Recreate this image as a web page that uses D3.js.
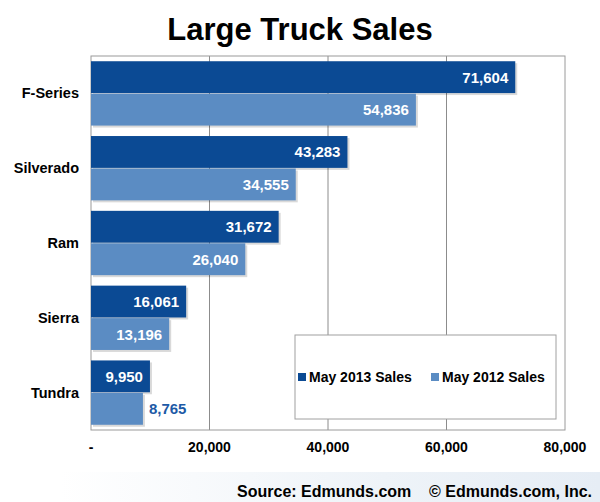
<!DOCTYPE html>
<html>
<head>
<meta charset="utf-8">
<script src="https://cdn.jsdelivr.net/npm/d3@7"></script>
<style>body{margin:0;background:#fff;} text{font-family:"Liberation Sans",Arial,sans-serif;}</style>
</head>
<body>
<script>
// data
var categories = ["F-Series", "Silverado", "Ram", "Sierra", "Tundra"];
var seriesNames = ["May 2013 Sales", "May 2012 Sales"];
var sales2013 = [71604, 43283, 31672, 16061, 9950];
var sales2012 = [54836, 34555, 26040, 13196, 8765];
var tickValues = [0, 20000, 40000, 60000, 80000];
var colors = ["#0b4a94", "#5b8cc3"];

var svg = d3.select("body").append("svg")
    .attr("width", 600).attr("height", 502)
    .style("display", "block");

var defs = svg.append("defs");
var grad = defs.append("linearGradient").attr("id", "foot");
grad.append("stop").attr("offset", "0%").attr("stop-color", "#ffffff");
grad.append("stop").attr("offset", "60%").attr("stop-color", "#eef3f8");
grad.append("stop").attr("offset", "100%").attr("stop-color", "#e6edf5");

var x = d3.scaleLinear().domain([0, 80000]).range([91, 565]);
var y0 = d3.scaleBand().domain(categories).range([56, 430]).paddingInner(0.14).paddingOuter(0.07);
var y1 = d3.scaleBand().domain([0, 1]).range([0, y0.bandwidth()]).paddingInner(0.02);

// title
svg.append("text").attr("x", 300).attr("y", 40)
    .attr("text-anchor", "middle").style("font-size", "31px").style("font-weight", "bold")
    .text("Large Truck Sales");

// grid + frame
svg.append("g").selectAll("line").data(tickValues.slice(1, 4)).enter().append("line")
    .attr("x1", d => x(d)).attr("x2", d => x(d))
    .attr("y1", 56).attr("y2", 430)
    .attr("stroke", "#8c8c8c").attr("stroke-width", 1);
svg.append("rect").attr("x", 91).attr("y", 56).attr("width", 474).attr("height", 374)
    .attr("fill", "none").attr("stroke", "#9a9a9a");

// x axis labels
svg.append("g").selectAll("text").data(tickValues).enter().append("text")
    .attr("x", d => x(d)).attr("y", 452)
    .attr("text-anchor", "middle").style("font-size", "14px").style("font-weight", "bold")
    .text(d => d === 0 ? "-" : d3.format(",")(d));

// category labels
svg.append("g").selectAll("text").data(categories).enter().append("text")
    .attr("x", 79).attr("y", d => y0(d) + y0.bandwidth() / 2 + 5)
    .attr("text-anchor", "end").style("font-size", "14.5px").style("font-weight", "bold")
    .text(d => d);

// bars
var rows = [];
categories.forEach(function (c, i) {
    rows.push({cat: c, s: 0, v: sales2013[i]});
    rows.push({cat: c, s: 1, v: sales2012[i]});
});
var bars = svg.append("g").selectAll("g").data(rows).enter().append("g")
    .attr("transform", d => "translate(0," + (y0(d.cat) + y1(d.s)) + ")");
bars.append("rect")
    .attr("x", x(0) + 2).attr("y", 2)
    .attr("width", d => x(d.v) - x(0)).attr("height", y1.bandwidth())
    .attr("fill", "#000").attr("opacity", 0.15);
bars.append("rect")
    .attr("x", x(0)).attr("y", 0)
    .attr("width", d => x(d.v) - x(0)).attr("height", y1.bandwidth())
    .attr("fill", d => colors[d.s]);
bars.append("text")
    .attr("x", d => (x(d.v) - x(0) < 55) ? x(d.v) + 6 : x(d.v) - 7)
    .attr("y", y1.bandwidth() / 2 + 5.5)
    .attr("text-anchor", d => (x(d.v) - x(0) < 55) ? "start" : "end")
    .attr("fill", d => (x(d.v) - x(0) < 55) ? "#1d5aa6" : "#fff")
    .style("font-size", "15px").style("font-weight", "bold")
    .text(d => d3.format(",")(d.v));

// legend
var leg = svg.append("g");
leg.append("rect").attr("x", 295).attr("y", 335).attr("width", 261).attr("height", 84)
    .attr("fill", "#fff").attr("stroke", "#a0a0a0");
var legX = [298, 431];
seriesNames.forEach(function (n, i) {
    leg.append("rect").attr("x", legX[i]).attr("y", 373).attr("width", 8).attr("height", 8)
        .attr("fill", colors[i]);
    leg.append("text").attr("x", legX[i] + 11).attr("y", 382)
        .style("font-size", "14px").style("font-weight", "bold")
        .text(n);
});

// footer
svg.append("rect").attr("x", 60).attr("y", 472).attr("width", 540).attr("height", 30)
    .attr("fill", "url(#foot)");
svg.append("text").attr("x", 592).attr("y", 497).attr("text-anchor", "end")
    .style("font-size", "16px").style("font-weight", "bold")
    .text("Source: Edmunds.com    \u00a9 Edmunds.com, Inc.")
    .attr("xml:space", "preserve").style("white-space", "pre");
</script>
</body>
</html>
